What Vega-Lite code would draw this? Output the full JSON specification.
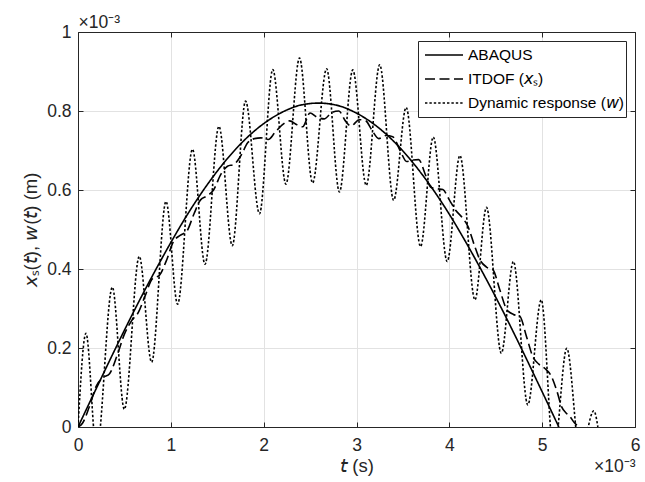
{
  "$schema": "https://vega.github.io/schema/vega-lite/v6.json",
  "width": 557,
  "height": 395,
  "autosize": {"type": "none"},
  "padding": {"left": 78, "top": 32, "right": 10, "bottom": 55},
  "background": "white",
  "config": {
    "view": {"stroke": null},
    "font": "Liberation Sans",
    "axis": {
      "labelFont": "Liberation Sans",
      "titleFont": "Liberation Sans",
      "labelColor": "#262626",
      "titleColor": "#262626",
      "domainColor": "#262626",
      "tickColor": "#262626",
      "gridColor": "#e2e2e2",
      "tickSize": -5,
      "labelFontSize": 17.5,
      "titleFontSize": 18.5,
      "titleFontWeight": "normal",
      "labelFlush": false
    }
  },
  "data": {
    "values": [
      {"s": "ABAQUS", "t": 0, "v": 0},
      {"s": "ABAQUS", "t": 0.2, "v": 0.099},
      {"s": "ABAQUS", "t": 0.4, "v": 0.197},
      {"s": "ABAQUS", "t": 0.6, "v": 0.292},
      {"s": "ABAQUS", "t": 0.8, "v": 0.382},
      {"s": "ABAQUS", "t": 1.0, "v": 0.467},
      {"s": "ABAQUS", "t": 1.2, "v": 0.546},
      {"s": "ABAQUS", "t": 1.4, "v": 0.616},
      {"s": "ABAQUS", "t": 1.6, "v": 0.677},
      {"s": "ABAQUS", "t": 1.8, "v": 0.728},
      {"s": "ABAQUS", "t": 2.0, "v": 0.768},
      {"s": "ABAQUS", "t": 2.2, "v": 0.797},
      {"s": "ABAQUS", "t": 2.4, "v": 0.815},
      {"s": "ABAQUS", "t": 2.59, "v": 0.82},
      {"s": "ABAQUS", "t": 2.78, "v": 0.815},
      {"s": "ABAQUS", "t": 2.98, "v": 0.797},
      {"s": "ABAQUS", "t": 3.18, "v": 0.768},
      {"s": "ABAQUS", "t": 3.38, "v": 0.728},
      {"s": "ABAQUS", "t": 3.58, "v": 0.677},
      {"s": "ABAQUS", "t": 3.78, "v": 0.616},
      {"s": "ABAQUS", "t": 3.98, "v": 0.546},
      {"s": "ABAQUS", "t": 4.18, "v": 0.467},
      {"s": "ABAQUS", "t": 4.38, "v": 0.382},
      {"s": "ABAQUS", "t": 4.58, "v": 0.292},
      {"s": "ABAQUS", "t": 4.78, "v": 0.197},
      {"s": "ABAQUS", "t": 4.98, "v": 0.099},
      {"s": "ABAQUS", "t": 5.18, "v": 0},

      {"s": "ITDOF (𝘹ₛ)", "t": 0, "v": 0},
      {"s": "ITDOF (𝘹ₛ)", "t": 0.05, "v": 0.01},
      {"s": "ITDOF (𝘹ₛ)", "t": 0.12, "v": 0.05},
      {"s": "ITDOF (𝘹ₛ)", "t": 0.2, "v": 0.105},
      {"s": "ITDOF (𝘹ₛ)", "t": 0.27, "v": 0.125},
      {"s": "ITDOF (𝘹ₛ)", "t": 0.34, "v": 0.135},
      {"s": "ITDOF (𝘹ₛ)", "t": 0.42, "v": 0.18},
      {"s": "ITDOF (𝘹ₛ)", "t": 0.5, "v": 0.235},
      {"s": "ITDOF (𝘹ₛ)", "t": 0.58, "v": 0.27},
      {"s": "ITDOF (𝘹ₛ)", "t": 0.65, "v": 0.29},
      {"s": "ITDOF (𝘹ₛ)", "t": 0.72, "v": 0.33},
      {"s": "ITDOF (𝘹ₛ)", "t": 0.8, "v": 0.375},
      {"s": "ITDOF (𝘹ₛ)", "t": 0.88, "v": 0.385},
      {"s": "ITDOF (𝘹ₛ)", "t": 0.95, "v": 0.42},
      {"s": "ITDOF (𝘹ₛ)", "t": 1.03, "v": 0.47},
      {"s": "ITDOF (𝘹ₛ)", "t": 1.1, "v": 0.485},
      {"s": "ITDOF (𝘹ₛ)", "t": 1.17, "v": 0.495},
      {"s": "ITDOF (𝘹ₛ)", "t": 1.25, "v": 0.54},
      {"s": "ITDOF (𝘹ₛ)", "t": 1.32, "v": 0.575},
      {"s": "ITDOF (𝘹ₛ)", "t": 1.39, "v": 0.585},
      {"s": "ITDOF (𝘹ₛ)", "t": 1.46, "v": 0.6},
      {"s": "ITDOF (𝘹ₛ)", "t": 1.54, "v": 0.64},
      {"s": "ITDOF (𝘹ₛ)", "t": 1.61, "v": 0.66},
      {"s": "ITDOF (𝘹ₛ)", "t": 1.68, "v": 0.665},
      {"s": "ITDOF (𝘹ₛ)", "t": 1.75, "v": 0.685},
      {"s": "ITDOF (𝘹ₛ)", "t": 1.83, "v": 0.72},
      {"s": "ITDOF (𝘹ₛ)", "t": 1.9, "v": 0.73},
      {"s": "ITDOF (𝘹ₛ)", "t": 1.97, "v": 0.732},
      {"s": "ITDOF (𝘹ₛ)", "t": 2.05, "v": 0.728},
      {"s": "ITDOF (𝘹ₛ)", "t": 2.12, "v": 0.745},
      {"s": "ITDOF (𝘹ₛ)", "t": 2.2, "v": 0.765},
      {"s": "ITDOF (𝘹ₛ)", "t": 2.28, "v": 0.775},
      {"s": "ITDOF (𝘹ₛ)", "t": 2.36, "v": 0.765},
      {"s": "ITDOF (𝘹ₛ)", "t": 2.42, "v": 0.76},
      {"s": "ITDOF (𝘹ₛ)", "t": 2.5, "v": 0.795},
      {"s": "ITDOF (𝘹ₛ)", "t": 2.57, "v": 0.785},
      {"s": "ITDOF (𝘹ₛ)", "t": 2.65, "v": 0.78},
      {"s": "ITDOF (𝘹ₛ)", "t": 2.74, "v": 0.797},
      {"s": "ITDOF (𝘹ₛ)", "t": 2.81, "v": 0.8},
      {"s": "ITDOF (𝘹ₛ)", "t": 2.88, "v": 0.775},
      {"s": "ITDOF (𝘹ₛ)", "t": 2.94, "v": 0.762},
      {"s": "ITDOF (𝘹ₛ)", "t": 3.03, "v": 0.778},
      {"s": "ITDOF (𝘹ₛ)", "t": 3.1, "v": 0.775},
      {"s": "ITDOF (𝘹ₛ)", "t": 3.17, "v": 0.75},
      {"s": "ITDOF (𝘹ₛ)", "t": 3.24, "v": 0.73},
      {"s": "ITDOF (𝘹ₛ)", "t": 3.32, "v": 0.738},
      {"s": "ITDOF (𝘹ₛ)", "t": 3.39, "v": 0.735},
      {"s": "ITDOF (𝘹ₛ)", "t": 3.47, "v": 0.7},
      {"s": "ITDOF (𝘹ₛ)", "t": 3.54, "v": 0.672},
      {"s": "ITDOF (𝘹ₛ)", "t": 3.61, "v": 0.676},
      {"s": "ITDOF (𝘹ₛ)", "t": 3.67, "v": 0.677},
      {"s": "ITDOF (𝘹ₛ)", "t": 3.74, "v": 0.64},
      {"s": "ITDOF (𝘹ₛ)", "t": 3.8, "v": 0.607},
      {"s": "ITDOF (𝘹ₛ)", "t": 3.87, "v": 0.603},
      {"s": "ITDOF (𝘹ₛ)", "t": 3.93, "v": 0.601},
      {"s": "ITDOF (𝘹ₛ)", "t": 4.0, "v": 0.575},
      {"s": "ITDOF (𝘹ₛ)", "t": 4.07, "v": 0.548},
      {"s": "ITDOF (𝘹ₛ)", "t": 4.14, "v": 0.53},
      {"s": "ITDOF (𝘹ₛ)", "t": 4.2, "v": 0.508},
      {"s": "ITDOF (𝘹ₛ)", "t": 4.27, "v": 0.46},
      {"s": "ITDOF (𝘹ₛ)", "t": 4.33, "v": 0.423},
      {"s": "ITDOF (𝘹ₛ)", "t": 4.4, "v": 0.405},
      {"s": "ITDOF (𝘹ₛ)", "t": 4.47, "v": 0.398},
      {"s": "ITDOF (𝘹ₛ)", "t": 4.54, "v": 0.35},
      {"s": "ITDOF (𝘹ₛ)", "t": 4.62, "v": 0.297},
      {"s": "ITDOF (𝘹ₛ)", "t": 4.69, "v": 0.285},
      {"s": "ITDOF (𝘹ₛ)", "t": 4.76, "v": 0.28},
      {"s": "ITDOF (𝘹ₛ)", "t": 4.83, "v": 0.23},
      {"s": "ITDOF (𝘹ₛ)", "t": 4.9, "v": 0.178},
      {"s": "ITDOF (𝘹ₛ)", "t": 4.96, "v": 0.16},
      {"s": "ITDOF (𝘹ₛ)", "t": 5.03, "v": 0.148},
      {"s": "ITDOF (𝘹ₛ)", "t": 5.1, "v": 0.128},
      {"s": "ITDOF (𝘹ₛ)", "t": 5.16, "v": 0.09},
      {"s": "ITDOF (𝘹ₛ)", "t": 5.21, "v": 0.051},
      {"s": "ITDOF (𝘹ₛ)", "t": 5.26, "v": 0.035},
      {"s": "ITDOF (𝘹ₛ)", "t": 5.3, "v": 0.026},
      {"s": "ITDOF (𝘹ₛ)", "t": 5.35, "v": 0.01},
      {"s": "ITDOF (𝘹ₛ)", "t": 5.4, "v": 0},

      {"s": "Dynamic response (𝘸)", "t": 0, "v": 0},
      {"s": "Dynamic response (𝘸)", "t": 0.086, "v": 0.237},
      {"s": "Dynamic response (𝘸)", "t": 0.2, "v": -0.06},
      {"s": "Dynamic response (𝘸)", "t": 0.37, "v": 0.354},
      {"s": "Dynamic response (𝘸)", "t": 0.499, "v": 0.045},
      {"s": "Dynamic response (𝘸)", "t": 0.66, "v": 0.432},
      {"s": "Dynamic response (𝘸)", "t": 0.793, "v": 0.164},
      {"s": "Dynamic response (𝘸)", "t": 0.948, "v": 0.571},
      {"s": "Dynamic response (𝘸)", "t": 1.073, "v": 0.311},
      {"s": "Dynamic response (𝘸)", "t": 1.233, "v": 0.703},
      {"s": "Dynamic response (𝘸)", "t": 1.368, "v": 0.412},
      {"s": "Dynamic response (𝘸)", "t": 1.518, "v": 0.761},
      {"s": "Dynamic response (𝘸)", "t": 1.662, "v": 0.459},
      {"s": "Dynamic response (𝘸)", "t": 1.805, "v": 0.825},
      {"s": "Dynamic response (𝘸)", "t": 1.955, "v": 0.54},
      {"s": "Dynamic response (𝘸)", "t": 2.098, "v": 0.905},
      {"s": "Dynamic response (𝘸)", "t": 2.24, "v": 0.615},
      {"s": "Dynamic response (𝘸)", "t": 2.386, "v": 0.934},
      {"s": "Dynamic response (𝘸)", "t": 2.527, "v": 0.618},
      {"s": "Dynamic response (𝘸)", "t": 2.678, "v": 0.907},
      {"s": "Dynamic response (𝘸)", "t": 2.816, "v": 0.595},
      {"s": "Dynamic response (𝘸)", "t": 2.96, "v": 0.904},
      {"s": "Dynamic response (𝘸)", "t": 3.105, "v": 0.612},
      {"s": "Dynamic response (𝘸)", "t": 3.25, "v": 0.917},
      {"s": "Dynamic response (𝘸)", "t": 3.4, "v": 0.574},
      {"s": "Dynamic response (𝘸)", "t": 3.535, "v": 0.809},
      {"s": "Dynamic response (𝘸)", "t": 3.69, "v": 0.457},
      {"s": "Dynamic response (𝘸)", "t": 3.827, "v": 0.734},
      {"s": "Dynamic response (𝘸)", "t": 3.977, "v": 0.419},
      {"s": "Dynamic response (𝘸)", "t": 4.114, "v": 0.687},
      {"s": "Dynamic response (𝘸)", "t": 4.276, "v": 0.322},
      {"s": "Dynamic response (𝘸)", "t": 4.4, "v": 0.556},
      {"s": "Dynamic response (𝘸)", "t": 4.56, "v": 0.187},
      {"s": "Dynamic response (𝘸)", "t": 4.69, "v": 0.419},
      {"s": "Dynamic response (𝘸)", "t": 4.845, "v": 0.056},
      {"s": "Dynamic response (𝘸)", "t": 4.99, "v": 0.322},
      {"s": "Dynamic response (𝘸)", "t": 5.125, "v": -0.07},
      {"s": "Dynamic response (𝘸)", "t": 5.265, "v": 0.199},
      {"s": "Dynamic response (𝘸)", "t": 5.41, "v": -0.07},
      {"s": "Dynamic response (𝘸)", "t": 5.557, "v": 0.041},
      {"s": "Dynamic response (𝘸)", "t": 5.6, "v": 0}
    ]
  },
  "layer": [
    {
      "mark": {"type": "line", "interpolate": "monotone", "clip": true, "color": "black"},
      "encoding": {
        "x": {
          "field": "t", "type": "quantitative",
          "scale": {"domain": [0, 6], "nice": false, "zero": false},
          "axis": {
            "orient": "bottom", "values": [0, 1, 2, 3, 4, 5, 6], "grid": true,
            "labelPadding": 14, "title": "𝘵 (s)", "titleY": 44, "titleBaseline": "alphabetic"
          }
        },
        "y": {
          "field": "v", "type": "quantitative",
          "scale": {"domain": [0, 1], "nice": false},
          "axis": {
            "orient": "left", "values": [0, 0.2, 0.4, 0.6, 0.8, 1], "format": "~g", "grid": true,
            "labelPadding": 12, "title": "𝘹ₛ(𝘵), 𝘸(𝘵) (m)", "titleX": -42, "titleBaseline": "alphabetic"
          }
        },
        "strokeDash": {
          "field": "s", "type": "nominal",
          "scale": {
            "domain": ["ABAQUS", "ITDOF (𝘹ₛ)", "Dynamic response (𝘸)"],
            "range": [[1, 0], [10, 4.5], [2.4, 2]]
          },
          "legend": {
            "orient": "none", "legendX": 340, "legendY": 9, "title": null,
            "fillColor": "white", "strokeColor": "#262626", "padding": 2,
            "symbolType": "stroke", "symbolSize": 1444, "symbolStrokeColor": "black",
            "symbolStrokeWidth": 2, "symbolOffset": 4,
            "labelFont": "Liberation Sans", "labelFontSize": 15.5, "labelColor": "black",
            "labelOffset": 4, "clipHeight": 24, "rowPadding": 0, "labelLimit": 300
          }
        },
        "strokeWidth": {
          "field": "s", "type": "nominal",
          "scale": {
            "domain": ["ABAQUS", "ITDOF (𝘹ₛ)", "Dynamic response (𝘸)"],
            "range": [1.6, 1.6, 2.8]
          },
          "legend": null
        }
      }
    },
    {
      "mark": {"type": "point", "opacity": 0},
      "encoding": {
        "x": {
          "field": "t", "type": "quantitative",
          "scale": {"domain": [0, 6], "nice": false, "zero": false},
          "axis": {
            "orient": "top", "values": [0, 1, 2, 3, 4, 5, 6], "labels": false, "grid": false,
            "title": "×10⁻³", "titleX": 0, "titleY": -5, "titleAlign": "left",
            "titleBaseline": "alphabetic", "titleFontSize": 17.5
          }
        },
        "y": {
          "field": "v", "type": "quantitative",
          "scale": {"domain": [0, 1], "nice": false},
          "axis": {
            "orient": "right", "values": [0, 0.2, 0.4, 0.6, 0.8, 1], "labels": false,
            "grid": false, "title": null
          }
        }
      }
    },
    {
      "mark": {"type": "point", "opacity": 0},
      "encoding": {
        "x": {
          "field": "t", "type": "quantitative",
          "scale": {"domain": [0, 6], "nice": false, "zero": false},
          "axis": {
            "orient": "bottom", "labels": false, "ticks": false, "domain": false, "grid": false,
            "title": "×10⁻³", "titleX": 557, "titleY": 44, "titleAlign": "right",
            "titleBaseline": "alphabetic", "titleFontSize": 17.5
          }
        },
        "y": {
          "field": "v", "type": "quantitative",
          "scale": {"domain": [0, 1], "nice": false},
          "axis": null
        }
      }
    }
  ],
  "resolve": {"axis": {"x": "independent", "y": "independent"}}
}
